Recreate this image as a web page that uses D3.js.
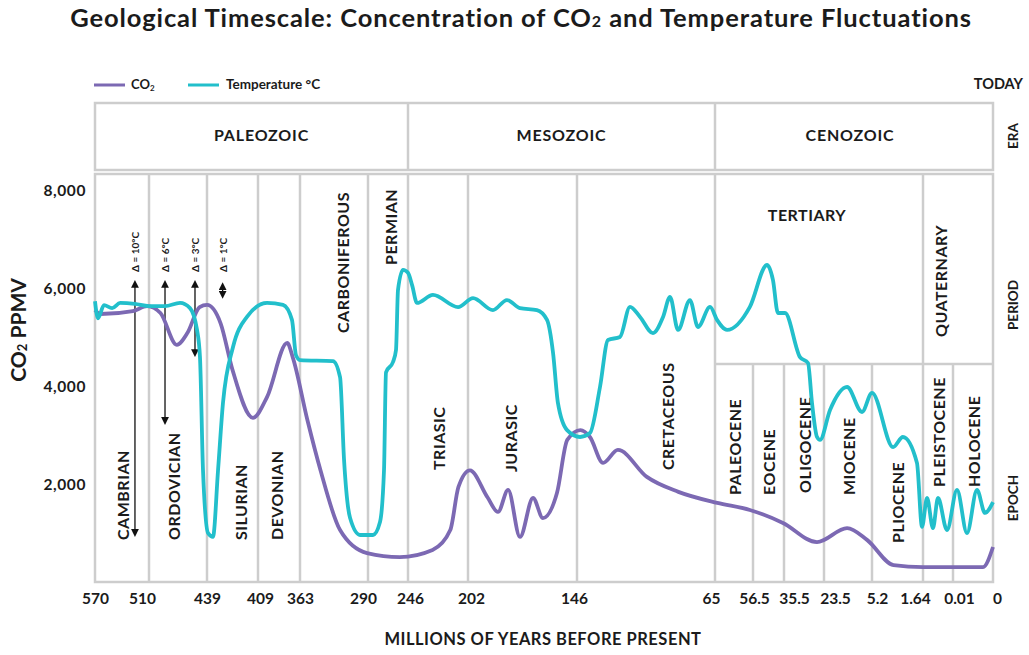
<!DOCTYPE html>
<html>
<head>
<meta charset="utf-8">
<script src="https://cdn.jsdelivr.net/npm/d3@7"></script>
<style>
  body { margin: 0; background: #fff; }
  text { font-family: Lato, "Noto Sans", sans-serif; fill: #1b1b1b; }
</style>
</head>
<body>
<div id="chart"></div>
<script>
//////////////////////////////////////////////////////////////////////////////
// Data

// tick ages (millions of years before present) and their labels
var tickAges   = [570, 510, 439, 409, 363, 290, 246, 202, 146, 65, 56.5, 35.5, 23.5, 5.2, 1.64, 0.01, 0];
var tickLabels = ["570", "510", "439", "409", "363", "290", "246", "202", "146", "65", "56.5", "35.5", "23.5", "5.2", "1.64", "0.01", "0"];

var eraNames  = ["PALEOZOIC", "MESOZOIC", "CENOZOIC"];
var eraStarts = [570, 246, 65];

var periodNames  = ["CAMBRIAN", "ORDOVICIAN", "SILURIAN", "DEVONIAN", "CARBONIFEROUS", "PERMIAN", "TRIASIC", "JURASIC", "CRETACEOUS"];
var periodStarts = [570, 510, 439, 409, 363, 290, 246, 202, 146];

var epochNames  = ["PALEOCENE", "EOCENE", "OLIGOCENE", "MIOCENE", "PLIOCENE", "PLEISTOCENE", "HOLOCENE"];
var epochStarts = [65, 56.5, 35.5, 23.5, 5.2, 1.64, 0.01];

var yTicks = [2000, 4000, 6000, 8000];

// [age, CO2 ppmv]
var co2Series = [
  [570, 5570], [564, 5490], [528, 5550], [512, 5650], [496, 5510], [476, 4860],
  [463, 5100], [448, 5630], [439, 5675], [431, 5300], [424, 4350], [412, 3370],
  [399, 3800], [377, 4900], [371, 4610], [355, 3320], [341, 2300], [320, 1080],
  [291, 610], [255, 530], [228, 675], [215, 1080], [209, 1960], [201, 2300],
  [192, 1750], [186.6, 1450], [181.4, 1900], [175.3, 940], [168.6, 1735],
  [163.5, 1325], [156.3, 1835], [151, 2920], [144, 3120], [138.4, 2980],
  [130.7, 2450], [122, 2715], [105, 2165], [86.5, 1860], [64.5, 1635],
  [57.2, 1490], [36.2, 1225], [25.6, 835], [14.7, 1120], [7.1, 880],
  [3.7, 365], [1.64, 325], [0.01, 325], [0.0025, 325], [0, 735]
];

// [age, temperature, drawn on the CO2 scale]
var tempSeries = [
  [570, 5750], [566.7, 5400], [560, 5670], [551, 5610], [542, 5715], [525.6, 5695],
  [510, 5650], [490.4, 5650], [472, 5715], [459.8, 5610], [451.2, 5165], [447.6, 4610],
  [443.9, 2305], [438.4, 1020], [435.5, 940], [432.5, 2305], [429.6, 3675],
  [423.7, 4815], [415.5, 5430], [399.1, 5715], [381.6, 5675], [371.8, 5370],
  [367.4, 4650], [363, 4550], [327.6, 4530], [320, 4200], [315.7, 2510],
  [309.3, 1330], [298.6, 980], [284.5, 980], [276.8, 1245], [272.4, 2300],
  [270.2, 4300], [262.5, 4510], [259.2, 4755], [257, 5980], [251.5, 6390],
  [246, 6330], [243, 6080], [239.4, 5715], [227.7, 5880], [209.3, 5630],
  [199.4, 5815], [189.2, 5570], [182, 5775], [175.3, 5610], [166.6, 5570],
  [161.4, 5370], [158.3, 4695], [155.8, 3675], [151.1, 3120], [144.2, 2980],
  [138.4, 3060], [132.5, 4000], [127.8, 4960], [120.8, 5020], [114.9, 5635],
  [109, 5430], [101.4, 5100], [95.5, 5430], [91.4, 5840], [86.7, 5165],
  [79.7, 5775], [75, 5225], [67.9, 5635], [64.55, 5370], [62.3, 5165],
  [57.2, 5635], [47, 6490], [43, 6185], [39.6, 5510], [35.2, 5510], [30.7, 4610],
  [28.3, 4490], [27.1, 3675], [25.6, 2980], [24.7, 2920], [21.2, 3530],
  [14.7, 4000], [9, 3490], [5.2, 3880], [3.73, 2775], [3.04, 2980], [2.06, 2450],
  [1.71, 1145], [1.42, 1735], [1.1, 1120], [0.825, 1735], [0.336, 1080],
  [0.009, 1900], [0.0065, 1020], [0.004, 1900], [0.002, 1430], [0, 1650]
];

// temperature swing annotations: label, age, span on the CO2 scale
var deltaLabels = ["\u0394 = 10\u00b0C", "\u0394 = 6\u00b0C", "\u0394 = 3\u00b0C", "\u0394 = 1\u00b0C"];
var deltaAges   = [525.6, 490.4, 453.7, 429.8];
var deltaTops   = [6145, 6145, 6145, 6100];
var deltaBottoms = [980, 3265, 4650, 5840];

//////////////////////////////////////////////////////////////////////////////
// Layout

var width = 1029, height = 655;
var purple = "#7c69b3", teal = "#22bfcb", grid = "#cdcdcd";

// stretched timescale: pixel stop for every tick age
var axisStops = [95, 149, 207, 258, 300, 368, 408, 468, 577, 715, 753, 784, 824, 872, 923, 953, 993];
var tickDx = [0, -7, 0, 2, 0, -5, 2, 3, -3, -4, 1, 10, 11, 5, -8, 6, 4];

var eraTop = 103, eraBottom = 170;
var plotTop = 174, plotBottom = 582, epochTop = 364;

var eraDx = [10, 0, -4];
var periodDx = [0, -5, 8, -3, 8, 2, 0, -12, 21];
var periodBase = [540, 540, 540, 540, 333, 265, 470, 472, 470];
var epochBase = [495, 495, 493, 495, 543, 487, 487];

var xScale = d3.scaleLinear().domain(tickAges).range(axisStops);
var yScale = d3.scaleLinear().domain([0, 8000]).range([583, 191]);

var svg = d3.select("#chart").append("svg")
    .attr("width", width)
    .attr("height", height);

// title
var title = svg.append("text")
    .attr("x", 521).attr("y", 27)
    .attr("text-anchor", "middle")
    .style("font-size", "25.5px").style("font-weight", 700)
    .style("letter-spacing", "0.9px");
title.append("tspan").text("Geological Timescale: Concentration of CO");
title.append("tspan").text("2").style("font-size", "16px");
title.append("tspan").text(" and Temperature Fluctuations");

// legend
svg.append("line").attr("x1", 94).attr("x2", 125).attr("y1", 85).attr("y2", 85)
    .attr("stroke", purple).attr("stroke-width", 3);
var lg = svg.append("text").attr("x", 131).attr("y", 89).style("font-size", "13px").style("font-weight", 700);
lg.append("tspan").text("CO");
lg.append("tspan").text("2").style("font-size", "8px").attr("dy", 2);
svg.append("line").attr("x1", 188).attr("x2", 219).attr("y1", 85).attr("y2", 85)
    .attr("stroke", teal).attr("stroke-width", 3);
svg.append("text").attr("x", 226).attr("y", 89).style("font-size", "13.5px").style("font-weight", 700)
    .text("Temperature \u00b0C");

svg.append("text").attr("x", 1023).attr("y", 89).attr("text-anchor", "end")
    .style("font-size", "14.5px").style("font-weight", 700).text("TODAY");

// era band
var g = svg.append("g").attr("fill", "none").attr("stroke", grid).attr("stroke-width", 2.5);
g.append("rect").attr("x", xScale(570)).attr("y", eraTop)
    .attr("width", xScale(0) - xScale(570)).attr("height", eraBottom - eraTop);
g.selectAll(".eraDiv").data(eraStarts.slice(1)).enter().append("line")
    .attr("x1", xScale).attr("x2", xScale).attr("y1", eraTop).attr("y2", eraBottom);

svg.selectAll(".eraLabel").data(eraNames).enter().append("text")
    .attr("x", function(d, i) {
        var end = i < eraStarts.length - 1 ? eraStarts[i + 1] : 0;
        return (xScale(eraStarts[i]) + xScale(end)) / 2 + eraDx[i];
    })
    .attr("y", 141)
    .attr("text-anchor", "middle")
    .style("font-size", "16px").style("font-weight", 700).style("letter-spacing", "0.8px")
    .text(function(d) { return d; });

// main frame
g.append("rect").attr("x", xScale(570)).attr("y", plotTop)
    .attr("width", xScale(0) - xScale(570)).attr("height", plotBottom - plotTop);
g.selectAll(".periodDiv").data(periodStarts.slice(1).concat([65, 1.64])).enter().append("line")
    .attr("x1", xScale).attr("x2", xScale).attr("y1", plotTop).attr("y2", plotBottom);
g.selectAll(".epochDiv").data([56.5, 35.5, 23.5, 5.2, 0.01]).enter().append("line")
    .attr("x1", xScale).attr("x2", xScale).attr("y1", epochTop).attr("y2", plotBottom);
g.append("line").attr("x1", xScale(65)).attr("x2", xScale(0)).attr("y1", epochTop).attr("y2", epochTop);

function vlabel(sel, size) {
    return sel.attr("text-anchor", "start")
        .attr("dominant-baseline", "central")
        .style("font-size", size).style("font-weight", 700)
        .style("letter-spacing", "0.5px");
}

// period labels
svg.selectAll(".periodLabel").data(periodNames).enter().append("text")
    .attr("transform", function(d, i) {
        var end = i < periodStarts.length - 1 ? periodStarts[i + 1] : 65;
        var cx = (xScale(periodStarts[i]) + xScale(end)) / 2 + periodDx[i];
        return "translate(" + cx + "," + periodBase[i] + ") rotate(-90)";
    })
    .call(vlabel, "16px")
    .text(function(d) { return d; });

svg.append("text").attr("x", 807).attr("y", 221).attr("text-anchor", "middle")
    .style("font-size", "16px").style("font-weight", 700).style("letter-spacing", "0.5px").text("TERTIARY");
svg.append("text").attr("transform", "translate(" + ((xScale(1.64) + xScale(0)) / 2 - 18) + ",337) rotate(-90)")
    .call(vlabel, "16px").text("QUATERNARY");

// epoch labels
svg.selectAll(".epochLabel").data(epochNames).enter().append("text")
    .attr("transform", function(d, i) {
        var end = i < epochStarts.length - 1 ? epochStarts[i + 1] : 0;
        var cx = (xScale(epochStarts[i]) + xScale(end)) / 2;
        return "translate(" + cx + "," + epochBase[i] + ") rotate(-90)";
    })
    .call(vlabel, "16px")
    .text(function(d) { return d; });

// right side row names
[["ERA", 136], ["PERIOD", 305], ["EPOCH", 498]].forEach(function(r) {
    svg.append("text").attr("transform", "translate(1013," + r[1] + ") rotate(-90)")
        .attr("text-anchor", "middle").attr("dominant-baseline", "central")
        .style("font-size", "13.5px").style("font-weight", 700).text(r[0]);
});

// axes
var xAxis = svg.append("g").attr("transform", "translate(0,590)")
    .call(d3.axisBottom(xScale).tickValues(tickAges).tickSize(0)
        .tickFormat(function(d, i) { return tickLabels[i]; }));
xAxis.select(".domain").remove();
xAxis.selectAll("text")
    .attr("dx", function(d, i) { return tickDx[i]; })
    .style("font-size", "15.5px").style("font-weight", 700)
    .style("font-family", "Lato, sans-serif").attr("fill", "#1b1b1b");

var yAxis = svg.append("g").attr("transform", "translate(89,0)")
    .call(d3.axisLeft(yScale).tickValues(yTicks).tickSize(0).tickFormat(d3.format(",")));
yAxis.select(".domain").remove();
yAxis.selectAll("text").style("font-size", "15.5px").style("font-weight", 700)
    .style("letter-spacing", "0.6px")
    .style("font-family", "Lato, sans-serif").attr("fill", "#1b1b1b");

var yt = svg.append("text").attr("transform", "translate(17,330) rotate(-90)")
    .attr("text-anchor", "middle").attr("dominant-baseline", "central")
    .style("font-size", "21px").style("font-weight", 700);
yt.append("tspan").text("CO");
yt.append("tspan").text("2").style("font-size", "13px").attr("dy", 5);
yt.append("tspan").text(" PPMV").attr("dy", -5);

svg.append("text").attr("x", 543).attr("y", 645).attr("text-anchor", "middle")
    .style("font-size", "16.5px").style("font-weight", 700).style("letter-spacing", "0.5px")
    .text("MILLIONS OF YEARS BEFORE PRESENT");

// delta annotations
var defs = svg.append("defs");
defs.append("marker").attr("id", "arr")
    .attr("viewBox", "0 0 10 10").attr("refX", 5).attr("refY", 5)
    .attr("markerWidth", 6).attr("markerHeight", 6)
    .attr("orient", "auto-start-reverse")
    .append("path").attr("d", "M0,0 L10,5 L0,10 z").attr("fill", "#111");

deltaLabels.forEach(function(lab, i) {
    var x = xScale(deltaAges[i]);
    svg.append("line")
        .attr("x1", x).attr("x2", x)
        .attr("y1", yScale(deltaTops[i]) + 2).attr("y2", yScale(deltaBottoms[i]) - 2)
        .attr("stroke", "#111").attr("stroke-width", 1.3)
        .attr("marker-start", "url(#arr)").attr("marker-end", "url(#arr)");
    svg.append("text").attr("transform", "translate(" + x + ",272) rotate(-90)")
        .call(vlabel, "10px").style("letter-spacing", "0px").text(lab);
});

// curves
var line = d3.line()
    .x(function(d) { return xScale(d[0]); })
    .y(function(d) { return yScale(d[1]); })
    .curve(d3.curveMonotoneX);

svg.append("path").datum(co2Series)
    .attr("d", line).attr("fill", "none")
    .attr("stroke", purple).attr("stroke-width", 3.8).attr("stroke-linejoin", "round");

svg.append("path").datum(tempSeries)
    .attr("d", line).attr("fill", "none")
    .attr("stroke", teal).attr("stroke-width", 3.8).attr("stroke-linejoin", "round");
</script>
</body>
</html>
